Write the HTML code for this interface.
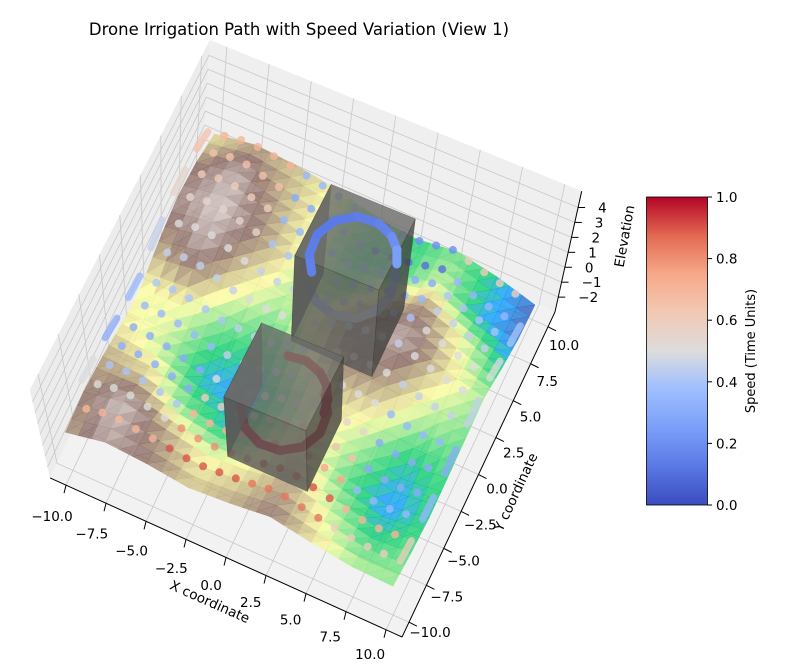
<!DOCTYPE html>
<html><head><meta charset="utf-8">
<style>
html,body{margin:0;padding:0;background:#fff;}
svg{display:block;font-family:"DejaVu Sans","Liberation Sans",sans-serif;}
</style></head>
<body>
<svg id="chart" width="789" height="669" viewBox="0 0 789 669" xmlns="http://www.w3.org/2000/svg">
<defs>
<linearGradient id="cw" x1="0" y1="1" x2="0" y2="0">
<stop offset="0" stop-color="#3b4cc0"/><stop offset="0.125" stop-color="#5a78e4"/>
<stop offset="0.25" stop-color="#7b9ff9"/><stop offset="0.375" stop-color="#9ebeff"/>
<stop offset="0.5" stop-color="#dddcdc"/><stop offset="0.625" stop-color="#f2c9b4"/>
<stop offset="0.75" stop-color="#f7a889"/><stop offset="0.875" stop-color="#e26952"/>
<stop offset="1" stop-color="#b40426"/>
</linearGradient>
</defs>
<text x="299" y="35" font-size="16.5" text-anchor="middle" fill="#000">Drone Irrigation Path with Speed Variation (View 1)</text>
<g id="panes"></g>
<g id="surf"></g>
<g id="dots"></g>
<g id="objs"></g>
<g id="axes"></g>
<g>
<rect x="646.5" y="197" width="61" height="308" fill="url(#cw)" stroke="#000" stroke-width="0.8"/>
<g id="cbticks"></g>
<text transform="translate(755,351) rotate(-90)" font-size="13" text-anchor="middle" fill="#000">Speed (Time Units)</text>
</g>
</svg>
<script>
// ---------- data ----------
const xTicks=[-10,-7.5,-5,-2.5,0,2.5,5,7.5,10];
const xTickLabels=["−10.0","−7.5","−5.0","−2.5","0.0","2.5","5.0","7.5","10.0"];
const yTicks=[-10,-7.5,-5,-2.5,0,2.5,5,7.5,10];
const yTickLabels=["−10.0","−7.5","−5.0","−2.5","0.0","2.5","5.0","7.5","10.0"];
const zTicks=[-2,-1,0,1,2,3,4];
const zTickLabels=["−2","−1","0","1","2","3","4"];
const cbTicks=[0,0.2,0.4,0.6,0.8,1.0];
const cbTickLabels=["0.0","0.2","0.4","0.6","0.8","1.0"];
const gridX=[-10,-7.5,-5,-2.5,0,2.5,5,7.5,10];
const gridY=[-10,-7.5,-5,-2.5,0,2.5,5,7.5,10];
const elevation=[
[1.5,2.5,2.0,1.2,1.5,2.0,1.0,0.2,0.0],
[1.8,2.8,1.5,0.5,0.8,1.5,0.3,-0.8,-0.5],
[1.5,1.2,-0.3,-1.0,0.2,1.0,-0.5,-1.5,-0.8],
[0.8,0.2,-1.2,-1.6,-0.3,0.8,0.2,-1.0,-0.6],
[0.5,0.6,-0.5,-0.8,0.3,1.8,1.5,0.2,-0.3],
[1.5,2.5,0.8,0.0,0.8,2.2,2.6,1.0,0.0],
[2.2,2.9,1.8,0.4,-0.2,0.8,1.8,0.5,-1.0],
[1.8,2.6,1.5,0.5,-0.8,-0.6,0.3,-1.2,-1.8],
[0.8,1.5,1.2,0.6,-0.4,-0.8,-0.3,-1.0,-2.0]];
const rowY=[-9,-7.5,-6,-4.5,-3,-1.5,0,1.5,3,4.5,6,7.5,9];
const dotX=[-9,-8,-7,-6,-5,-4,-3,-2,-1,0,1,2,3,4,5,6,7,8,9];
const rowSpeeds=[
[0.7,0.9,0.85,0.6],[0.5,0.8,0.9,0.7],[0.4,0.7,0.75,0.35],[0.3,0.6,0.65,0.3],
[0.3,0.5,0.55,0.3],[0.35,0.45,0.5,0.35],[0.4,0.45,0.5,0.45],[0.45,0.5,0.45,0.5],
[0.5,0.45,0.4,0.5],[0.55,0.4,0.35,0.45],[0.6,0.35,0.3,0.4],[0.65,0.3,0.1,0.35],[0.7,0.35,0.2,0.6]];
const cubeX0=[-1.6,-1.7], cubeX1=[3.4,3.2], cubeY0=[2.0,-6.6], cubeY1=[6.5,-1.9], cubeZ0=[-2,-1], cubeZ1=[4.5,4];
const ringCX=[0.9,0.75], ringCY=[4.25,-4.25], ringR=[2.4,2.4];
const arcRing=[0,0,1,1];
const arcZ=[3.0,1.5,1.3,2.4];
const arcAngles=[[225,200,170,140,110,80,55,35,15],[215,240,270,300,330,0,25,40],[200,230,260,290,320,350,20,45],[110,85,60,40,20,0]];
const arcSpeeds=[[0.15,0.14,0.13,0.13,0.14,0.16,0.2,0.25,0.3],[0.35,0.4,0.45,0.48,0.45,0.4,0.35,0.33],[1.0,0.97,0.95,0.93,0.92,0.92,0.93,0.95],[0.9,0.9,0.92,0.93,0.95,0.95]];
// ---------- projection ----------
const ZF=-3, ZT=5.1, L=11, HS=0.7;
function P(x,y,z){
  const bx=302.5+16*x+6.95*y, by=395+7.23*x-14.77*y;
  const dz=z-ZF;
  const ezx=0.4+0.111*x+0.153*y, ezy=12.9+0.14*y+0.045*x;
  return [bx+dz*ezx, by-dz*ezy];
}
const NS="http://www.w3.org/2000/svg";
function mk(tag,attrs,parent){const e=document.createElementNS(NS,tag);for(const k in attrs)e.setAttribute(k,attrs[k]);parent.appendChild(e);return e;}
function pts(a){return a.map(p=>p[0].toFixed(1)+","+p[1].toFixed(1)).join(" ");}
function lerpStops(stops,t){t=Math.max(0,Math.min(1,t));for(let i=1;i<stops.length;i++){if(t<=stops[i][0]){const a=stops[i-1],b=stops[i];const f=(t-a[0])/(b[0]-a[0]);return a[1].map((v,k)=>Math.round(v+(b[1][k]-v)*f));}}return stops[stops.length-1][1];}
const terrainStops=[[0,[51,51,153]],[0.15,[0,153,255]],[0.25,[0,204,102]],[0.5,[255,255,153]],[0.75,[128,92,84]],[1,[255,255,255]]];
const cwStops=[[0,[59,76,192]],[0.125,[90,120,228]],[0.25,[123,159,249]],[0.375,[158,190,255]],[0.5,[221,220,220]],[0.625,[242,201,180]],[0.75,[247,168,137]],[0.875,[226,105,82]],[1,[180,4,38]]];
function rgb(c){return "rgb("+c.join(",")+")";}
// ---------- panes ----------
const pg=document.getElementById('panes');
let e;
e=mk('polygon',{points:pts([P(-L,-L,ZF),P(L,-L,ZF),P(L,L,ZF),P(-L,L,ZF)]),fill:"#f2f2f2"},pg);

e=mk('polygon',{points:pts([P(-L,-L,ZF),P(-L,L,ZF),P(-L,L,ZT),P(-L,-L,ZT)]),fill:"#ececec"},pg);

e=mk('polygon',{points:pts([P(-L,L,ZF),P(L,L,ZF),P(L,L,ZT),P(-L,L,ZT)]),fill:"#efefef"},pg);

const gs={stroke:"#c8c8c8","stroke-width":0.8,fill:"none"};
xTicks.forEach(x=>{
  e=mk('polyline',Object.assign({points:pts([P(x,-L,ZF),P(x,L,ZF),P(x,L,ZT)])},gs),pg);
  
});
yTicks.forEach(y=>{
  e=mk('polyline',Object.assign({points:pts([P(L,y,ZF),P(-L,y,ZF),P(-L,y,ZT)])},gs),pg);
  
});
zTicks.forEach(z=>{
  e=mk('polyline',Object.assign({points:pts([P(-L,-L,z),P(-L,L,z),P(L,L,z)])},gs),pg);
  
});
// ---------- surface ----------
function elevAt(x,y){
  const fx=(x+10)/2.5, fy=(y+10)/2.5;
  const i=Math.max(0,Math.min(7,Math.floor(fx))), j=Math.max(0,Math.min(7,Math.floor(fy)));
  const u=fx-i, v=fy-j;
  return elevation[j][i]*(1-u)*(1-v)+elevation[j][i+1]*u*(1-v)+elevation[j+1][i]*(1-u)*v+elevation[j+1][i+1]*u*v;
}
function hz(z){return z*HS-0.6;}
const sg=document.getElementById('surf');
const cells=[];
const SUB=3;
for(let j=0;j<8;j++)for(let i=0;i<8;i++)for(let b=0;b<SUB;b++)for(let a=0;a<SUB;a++){
  const x0=gridX[i]+2.5*a/SUB, x1=gridX[i]+2.5*(a+1)/SUB, y0=gridY[j]+2.5*b/SUB, y1=gridY[j]+2.5*(b+1)/SUB;
  cells.push({x0,x1,y0,y1,d:(y0+y1)/2-(x0+x1)/2});
}
cells.sort((p,q)=>q.d-p.d);
cells.forEach(c=>{
  const z00=elevAt(c.x0,c.y0),z10=elevAt(c.x1,c.y0),z11=elevAt(c.x1,c.y1),z01=elevAt(c.x0,c.y1);
  const tris=[[[c.x0,c.y0,z00],[c.x1,c.y0,z10],[c.x1,c.y1,z11]],[[c.x0,c.y0,z00],[c.x1,c.y1,z11],[c.x0,c.y1,z01]]];
  tris.forEach((t,k)=>{
    const zm=(t[0][2]+t[1][2]+t[2][2])/3;
    const col=lerpStops(terrainStops,(zm+2.2)/5.6+(k?0.01:-0.01));
    e=mk('polygon',{points:pts(t.map(p=>P(p[0],p[1],hz(p[2])))),fill:rgb(col),"fill-opacity":0.75,stroke:rgb(col),"stroke-opacity":0.5,"stroke-width":0.5},sg);
    
  });
});
// ---------- drone points ----------
const dg=document.getElementById('dots');
const dotList=[];
rowY.forEach((y,r)=>{
  dotX.forEach((x,k)=>{
    const seg=Math.min(3,Math.floor(k/ (dotX.length/4)));
    dotList.push({x,y,z:hz(elevAt(x,y))+1.0,s:rowSpeeds[r][seg],d:y-x});
  });
  if(r<rowY.length-1){
    const ex=(r%2===0)?10:-10;
    const s=(r%2===0)?rowSpeeds[r][3]:rowSpeeds[r][0];
    const p1=P(ex,y,hz(elevAt(ex,y))+1.0), p2=P(ex,rowY[r+1],hz(elevAt(ex,rowY[r+1]))+1.0);
    e=mk('line',{x1:p1[0],y1:p1[1],x2:p2[0],y2:p2[1],stroke:rgb(lerpStops(cwStops,s)),"stroke-width":7,"stroke-linecap":"round","stroke-opacity":0.75},dg);
    
  }
});
dotList.sort((p,q)=>q.d-p.d);
dotList.forEach(p=>{
  const s=P(p.x,p.y,p.z);
  e=mk('circle',{cx:s[0].toFixed(1),cy:s[1].toFixed(1),r:4,fill:rgb(lerpStops(cwStops,p.s)),"fill-opacity":0.8},dg);
  
});
// ---------- obstacles & arcs ----------
const og=document.getElementById('objs');
function drawArc(a){
  const ri=arcRing[a];
  const ang=arcAngles[a], sp=arcSpeeds[a];
  for(let k=0;k<ang.length-1;k++){
    const t1=ang[k]*Math.PI/180,t2=ang[k+1]*Math.PI/180;
    const p1=P(ringCX[ri]+ringR[ri]*Math.cos(t1),ringCY[ri]+ringR[ri]*Math.sin(t1),arcZ[a]);
    const p2=P(ringCX[ri]+ringR[ri]*Math.cos(t2),ringCY[ri]+ringR[ri]*Math.sin(t2),arcZ[a]);
    e=mk('line',{x1:p1[0],y1:p1[1],x2:p2[0],y2:p2[1],stroke:rgb(lerpStops(cwStops,sp[k])),"stroke-width":9,"stroke-linecap":"round"},og);
    
  }
}
function drawCube(c){
  const x0=cubeX0[c],x1=cubeX1[c],y0=cubeY0[c],y1=cubeY1[c],z0=cubeZ0[c],z1=cubeZ1[c];
  const faces=[
    {p:[P(x0,y1,z0),P(x0,y1,z1),P(x0,y0,z1),P(x0,y0,z0)],f:"#626260"},
    {p:[P(x0,y0,z0),P(x1,y0,z0),P(x1,y0,z1),P(x0,y0,z1)],f:"#585856"},
    {p:[P(x1,y0,z0),P(x1,y1,z0),P(x1,y1,z1),P(x1,y0,z1)],f:"#444442"},
    {p:[P(x0,y0,z1),P(x1,y0,z1),P(x1,y1,z1),P(x0,y1,z1)],f:"#6a6a68"}];
  faces.forEach(fc=>{
    e=mk('polygon',{points:pts(fc.p),fill:fc.f,"fill-opacity":0.8,stroke:"#333","stroke-opacity":0.4,"stroke-width":0.6},og);
    
  });
}
drawArc(1); drawCube(0); drawArc(0);
drawArc(2); drawArc(3); drawCube(1);
// ---------- axes ----------
const ag=document.getElementById('axes');
function line(p1,p2,name,w){e=mk('line',{x1:p1[0],y1:p1[1],x2:p2[0],y2:p2[1],stroke:"#000","stroke-width":w||1},ag);}
function text(x,y,s,name,opt){e=mk('text',Object.assign({x:x.toFixed(1),y:y.toFixed(1),"font-size":13.5,"text-anchor":"middle",fill:"#000"},opt||{}),ag);e.textContent=s;}
line(P(-L,-L,ZF),P(L,-L,ZF),'x-axis-line');
xTicks.forEach((x,i)=>{const b=P(x,-L,ZF);line(b,[b[0]-2,b[1]+8],'x-tick');const f=(x+10)/20;text(b[0]-14-2*f,b[1]+36-7*f,xTickLabels[i],'x-tick-label');});
line(P(L,-L,ZF),P(L,L,ZF),'y-axis-line');
yTicks.forEach((y,i)=>{const b=P(L,y,ZF);line(b,[b[0]+8,b[1]+4],'y-tick');const f=(y+10)/20;text(b[0]+21-5*f,b[1]+15+8*f,yTickLabels[i],'y-tick-label');});
line(P(L,L,ZF),P(L,L,ZT),'z-axis-line');
zTicks.forEach((z,i)=>{const b=P(L,L,z);line(b,[b[0]+7,b[1]],'z-tick');text(b[0]+20,b[1]+5,zTickLabels[i],'z-tick-label',{"text-anchor":"start"});});
text(0,0,"X coordinate",'x-axis-title',{transform:"translate(208,606) rotate(24)",x:0,y:0});
text(0,0,"Y coordinate",'y-axis-title',{transform:"translate(520,494) rotate(-65)",x:0,y:0});
text(0,0,"Elevation",'z-axis-title',{transform:"translate(629,237) rotate(-80)",x:0,y:0});
const cg=document.getElementById('cbticks');
cbTicks.forEach((t,i)=>{
  const y=505-t*308;
  e=mk('line',{x1:707.5,y1:y,x2:712,y2:y,stroke:"#000","stroke-width":1},cg);
  
  e=mk('text',{x:716,y:y+5,"font-size":13.5,fill:"#000"},cg);
  e.textContent=cbTickLabels[i];
  
});
</script>
</body></html>
